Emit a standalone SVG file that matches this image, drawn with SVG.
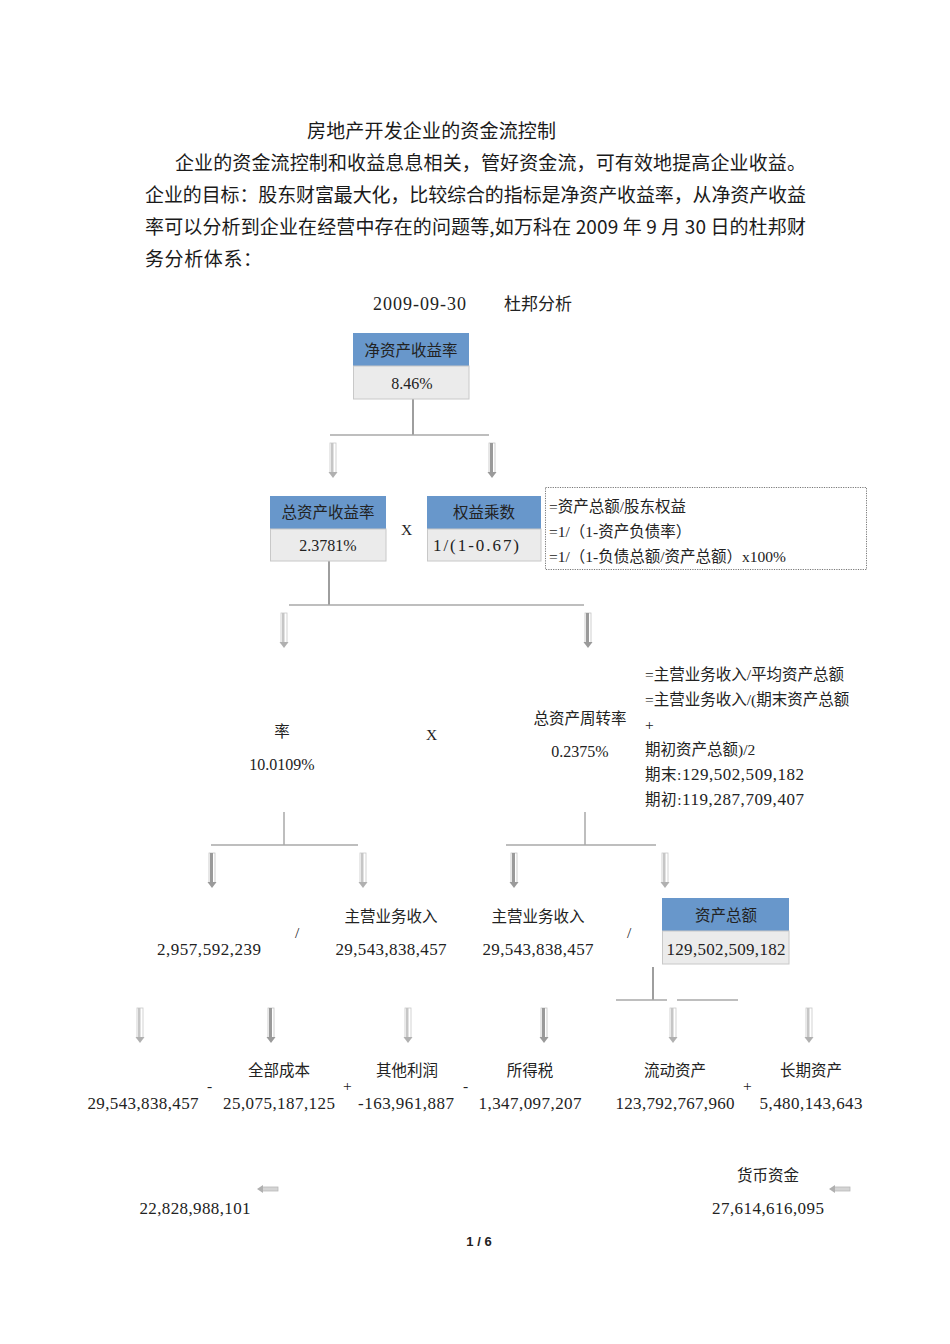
<svg xmlns="http://www.w3.org/2000/svg" width="950" height="1344" viewBox="0 0 950 1344">
<style>
.p{font-family:"Noto Sans CJK SC","Liberation Sans",sans-serif;font-size:19px;fill:#1a1a1a}
.t{font-family:"Liberation Serif","Noto Sans CJK SC",serif;font-size:15.5px;fill:#222}
.n{font-size:17px}
.pc{font-size:16px}
.m{text-anchor:middle}
.hd{fill:#6897CB}
.cell{fill:#EBEBEB;stroke:#C8C8C8;stroke-width:1}
.ln{stroke:#9E9E9E;stroke-width:2;fill:none}
.ln1{stroke:#A8A8A8;stroke-width:1.5;fill:none}
</style>
<defs>
<g id="darr">
<rect x="-3" y="0" width="6" height="30" fill="none" stroke="#C4C4C4" stroke-width="0.8"/>
<rect x="-2" y="0" width="3" height="30" fill="#9A9A9A"/>
<polygon points="-4.5,29 4.5,29 0,35" fill="#9A9A9A"/>
</g>
<g id="larr">
<rect x="-3" y="0" width="6" height="30" fill="none" stroke="#C8C8C8" stroke-width="0.8"/>
<rect x="-2" y="0" width="2.5" height="30" fill="#C6C6C6"/>
<polygon points="-4.5,29 4.5,29 0,35" fill="#B0B0B0"/>
</g>
<g id="harr">
<rect x="5" y="-2" width="16" height="4" fill="#D4D4D4" stroke="#B8B8B8" stroke-width="0.8"/>
<polygon points="0,0 6,-4 6,4" fill="#B0B0B0"/>
</g>
</defs>

<g id="heading">
<text class="p" x="307" y="138" textLength="249">房地产开发企业的资金流控制</text>
<text class="p" x="175" y="170" textLength="631">企业的资金流控制和收益息息相关，管好资金流，可有效地提高企业收益。</text>
<text class="p" x="145" y="202" textLength="661">企业的目标：股东财富最大化，比较综合的指标是净资产收益率，从净资产收益</text>
<text class="p" x="145" y="234" textLength="661">率可以分析到企业在经营中存在的问题等,如万科在 2009 年 9 月 30 日的杜邦财</text>
<text class="p" x="145" y="266" textLength="117">务分析体系：</text>
</g>

<g id="subtitle">
<text class="t" x="373" y="310" textLength="93" style="font-size:18px">2009-09-30</text>
<text class="t" x="504" y="310" style="font-size:17px">杜邦分析</text>
</g>

<g id="connectors">
<line class="ln" x1="413" y1="399" x2="413" y2="435"/>
<line class="ln1" x1="330" y1="435" x2="489" y2="435"/>
<use href="#larr" x="333" y="443"/>
<use href="#darr" x="492" y="443"/>
<line class="ln" x1="329" y1="561" x2="329" y2="605"/>
<line class="ln1" x1="289" y1="605" x2="584" y2="605"/>
<use href="#larr" x="284" y="613"/>
<use href="#darr" x="588" y="613"/>
<line class="ln1" x1="284" y1="812" x2="284" y2="845"/>
<line class="ln1" x1="211" y1="845" x2="358" y2="845"/>
<line class="ln1" x1="585" y1="812" x2="585" y2="845"/>
<line class="ln1" x1="506" y1="845" x2="656" y2="845"/>
<use href="#darr" x="212" y="853"/>
<use href="#larr" x="363" y="853"/>
<use href="#darr" x="514" y="853"/>
<use href="#larr" x="665" y="853"/>
<line class="ln" x1="653" y1="967" x2="653" y2="1000"/>
<line class="ln1" x1="616" y1="1000" x2="667" y2="1000"/>
<line class="ln1" x1="677" y1="1000" x2="738" y2="1000"/>
<use href="#larr" x="140" y="1008"/>
<use href="#darr" x="271" y="1008"/>
<use href="#larr" x="408" y="1008"/>
<use href="#darr" x="544" y="1008"/>
<use href="#larr" x="673" y="1008"/>
<use href="#larr" x="809" y="1008"/>
<use href="#harr" x="257" y="1189"/>
<use href="#harr" x="829" y="1189"/>
</g>

<g id="roe">
<rect class="hd" x="353" y="333" width="116" height="33"/>
<rect class="cell" x="353.5" y="366" width="115.5" height="33"/>
<text class="t m" x="411" y="356">净资产收益率</text>
<text class="t pc m" x="412" y="389">8.46%</text>
</g>

<g id="roa">
<rect class="hd" x="270" y="496" width="116" height="33"/>
<rect class="cell" x="270.5" y="529" width="115.5" height="32"/>
<text class="t m" x="328" y="518">总资产收益率</text>
<text class="t pc m" x="328" y="551">2.3781%</text>
</g>

<text class="t" x="401" y="535">X</text>

<g id="equity-multiplier">
<rect class="hd" x="427" y="496" width="114" height="33"/>
<rect class="cell" x="427.5" y="529" width="113.5" height="32"/>
<text class="t m" x="484" y="518">权益乘数</text>
<text class="t n m" x="476" y="551" textLength="86">1/(1-0.67)</text>
</g>

<g id="em-note">
<rect x="545.5" y="487.5" width="321" height="82" fill="none" stroke="#777" stroke-width="1" stroke-dasharray="1.2,1.2"/>
<text class="t" x="549" y="512">=资产总额/股东权益</text>
<text class="t" x="549" y="537">=1/（1-资产负债率）</text>
<text class="t" x="549" y="562">=1/（1-负债总额/资产总额）x100%</text>
</g>

<g id="net-margin">
<text class="t m" x="282" y="737">率</text>
<text class="t pc m" x="282" y="770">10.0109%</text>
</g>

<text class="t" x="426" y="740">X</text>

<g id="asset-turnover">
<text class="t m" x="580" y="724">总资产周转率</text>
<text class="t pc m" x="580" y="757">0.2375%</text>
</g>

<g id="at-note">
<text class="t" x="645" y="680">=主营业务收入/平均资产总额</text>
<text class="t" x="645" y="705">=主营业务收入/(期末资产总额</text>
<text class="t" x="645" y="730">+</text>
<text class="t" x="645" y="755">期初资产总额)/2</text>
<text class="t" x="645" y="780" textLength="159">期末:<tspan class="n">129,502,509,182</tspan></text>
<text class="t" x="645" y="805" textLength="159">期初:<tspan class="n">119,287,709,407</tspan></text>
</g>

<g id="net-profit">
<text class="t n m" x="209" y="955" textLength="104">2,957,592,239</text>
</g>
<text class="t" x="295" y="938">/</text>
<g id="revenue-1">
<text class="t m" x="391" y="922">主营业务收入</text>
<text class="t n m" x="391" y="955" textLength="111">29,543,838,457</text>
</g>
<g id="revenue-2">
<text class="t m" x="538" y="922">主营业务收入</text>
<text class="t n m" x="538" y="955" textLength="111">29,543,838,457</text>
</g>
<text class="t" x="627" y="938">/</text>

<g id="total-assets">
<rect class="hd" x="662" y="898" width="127" height="33"/>
<rect class="cell" x="662.5" y="931" width="126.5" height="33"/>
<text class="t m" x="726" y="921">资产总额</text>
<text class="t n m" x="726" y="955" textLength="119">129,502,509,182</text>
</g>

<g id="revenue-3">
<text class="t n m" x="143" y="1109" textLength="111">29,543,838,457</text>
</g>
<text class="t" x="207" y="1091">-</text>
<g id="total-cost">
<text class="t m" x="279" y="1076">全部成本</text>
<text class="t n m" x="279" y="1109" textLength="112">25,075,187,125</text>
</g>
<text class="t" x="343" y="1091">+</text>
<g id="other-profit">
<text class="t m" x="407" y="1076">其他利润</text>
<text class="t n m" x="406" y="1109" textLength="96">-163,961,887</text>
</g>
<text class="t" x="463" y="1091">-</text>
<g id="income-tax">
<text class="t m" x="530" y="1076">所得税</text>
<text class="t n m" x="530" y="1109" textLength="103">1,347,097,207</text>
</g>
<g id="current-assets">
<text class="t m" x="675" y="1076">流动资产</text>
<text class="t n m" x="675" y="1109" textLength="119">123,792,767,960</text>
</g>
<text class="t" x="743" y="1091">+</text>
<g id="long-term-assets">
<text class="t m" x="811" y="1076">长期资产</text>
<text class="t n m" x="811" y="1109" textLength="103">5,480,143,643</text>
</g>

<g id="left-bottom">
<text class="t n m" x="195" y="1214" textLength="111">22,828,988,101</text>
</g>
<g id="cash">
<text class="t m" x="768" y="1181">货币资金</text>
<text class="t n m" x="768" y="1214" textLength="112">27,614,616,095</text>
</g>

<text x="479" y="1246" text-anchor="middle" style="font-family:'Liberation Sans',sans-serif;font-size:13px;font-weight:bold;fill:#222">1 / 6</text>
</svg>
